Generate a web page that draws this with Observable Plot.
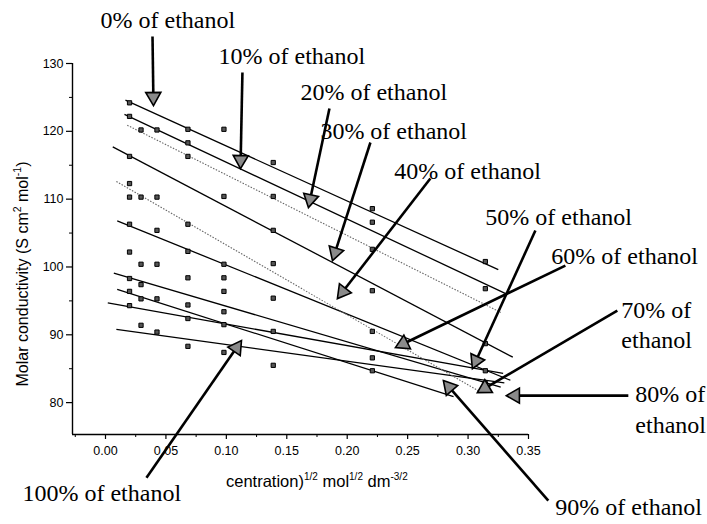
<!DOCTYPE html>
<html>
<head>
<meta charset="utf-8">
<script src="https://cdn.jsdelivr.net/npm/d3@7"></script>
<script src="https://cdn.jsdelivr.net/npm/@observablehq/plot@0.6"></script>
<style>
  html, body { margin: 0; padding: 0; background: #fff; }
  #chart { width: 707px; height: 524px; }
</style>
</head>
<body>
<div id="chart"></div>
<script>
// ---- Data ----
// square root of concentration (x) of each measured column
const sqrtConc = [0.0199, 0.0294, 0.0426, 0.0682, 0.098, 0.1388, 0.2208, 0.3143];
// molar conductivity values measured at each column
const condCol0 = [124.2, 122.2, 116.3, 112.3, 110.3, 106.3, 102.2, 98.3, 96.4, 94.3];
const condCol1 = [120.2, 110.3, 100.4, 97.4, 95.3, 91.4];
const condCol2 = [120.2, 110.3, 105.4, 100.4, 95.3, 90.4];
const condCol3 = [120.3, 118.3, 116.3, 106.3, 102.3, 98.4, 94.4, 92.4, 88.3];
const condCol4 = [120.3, 110.4, 100.4, 98.4, 96.4, 93.4, 91.5, 87.4];
const condCol5 = [115.4, 110.4, 105.4, 100.5, 95.4, 90.5, 85.5];
const condCol6 = [108.6, 106.6, 102.6, 96.5, 90.5, 86.6, 84.7];
const condCol7 = [100.8, 96.8, 88.7, 84.7, 82.8];
const condColumns = [condCol0, condCol1, condCol2, condCol3, condCol4, condCol5, condCol6, condCol7];

// fitted straight lines (start / end in data units)
const lineNames = ["0%", "10%", "20%", "30%", "40%", "50%", "60%", "70%", "80%", "100%"];
const lineX0 = [0.0165, 0.0157, 0.018, 0.006, 0.009, 0.0097, 0.0069, 0.0097, 0.0019, 0.009];
const lineY0 = [124.6, 122.5, 120.9, 117.7, 112.6, 106.8, 99.1, 96.7, 94.7, 90.8];
const lineX1 = [0.325, 0.332, 0.327, 0.337, 0.31, 0.335, 0.327, 0.288, 0.329, 0.33];
const lineY1 = [99.6, 96.0, 93.3, 86.7, 81.6, 83.3, 82.3, 80.9, 84.3, 82.9];
const lineDotted = [false, false, true, false, true, false, false, false, false, false];

// annotation labels (data units)
const annoText = ["0% of ethanol", "10% of ethanol", "20% of ethanol", "30% of ethanol",
  "40% of ethanol", "50% of ethanol", "60% of ethanol", "70% of", "ethanol",
  "80% of", "ethanol", "90% of ethanol", "100% of ethanol"];
const annoX = [-0.0041, 0.0935, 0.1613, 0.1778, 0.2390, 0.3143, 0.3689, 0.4268, 0.4268, 0.4384, 0.4384, 0.3722, -0.0687];
const annoY = [136.34, 131.03, 125.72, 119.97, 114.07, 107.29, 101.53, 93.57, 89.14, 81.18, 76.61, 64.51, 66.58];

// annotation arrows: tail (1) and tip (2), data units
const arrowX1 = [0.0389, 0.1133, 0.1853, 0.2192, 0.2688, 0.3557, 0.3805, 0.4235, 0.4326, 0.3664, 0.0339];
const arrowY1 = [133.98, 128.67, 123.36, 118.35, 113.04, 105.37, 100.21, 93.57, 81.03, 65.55, 68.94];
const arrowX2 = [0.0397, 0.1117, 0.1679, 0.1878, 0.1919, 0.3036, 0.2399, 0.3077, 0.3317, 0.2796, 0.1125];
const arrowY2 = [123.8, 114.51, 108.76, 100.94, 95.34, 85.01, 88.11, 81.47, 81.03, 83.24, 89.14];

// axis ticks
const xMajor = [0, 0.05, 0.10, 0.15, 0.20, 0.25, 0.30, 0.35];
const xMinor = [-0.025, 0.025, 0.075, 0.125, 0.175, 0.225, 0.275, 0.325];
const yMajor = [80, 90, 100, 110, 120, 130];
const yMinor = [85, 95, 105, 115, 125];
const xDomain = [-0.0273, 0.35];
const yDomain = [75.3, 130];

// ---- Build tables ----
const points = [];
condColumns.forEach((col, i) => col.forEach(v => points.push({x: sqrtConc[i], y: v})));
const lines = lineNames.map((n, i) => ({name: n, x1: lineX0[i], y1: lineY0[i], x2: lineX1[i], y2: lineY1[i], dotted: lineDotted[i]}));
const annos = annoText.map((t, i) => ({text: t, x: annoX[i], y: annoY[i]}));

const layout = {
  width: 707, height: 524,
  marginLeft: 72, marginRight: 179, marginTop: 63, marginBottom: 90,
  x: {domain: xDomain}, y: {domain: yDomain}
};

// probe the scales to orient the triangular arrow heads on screen
const probe = Plot.plot({...layout, marks: []});
const sx = probe.scale("x"), sy = probe.scale("y");
const headH = 13; // triangle height in px
const arrows = arrowX1.map((v, i) => {
  const px1 = sx.apply(v), py1 = sy.apply(arrowY1[i]);
  const px2 = sx.apply(arrowX2[i]), py2 = sy.apply(arrowY2[i]);
  const L = Math.hypot(px2 - px1, py2 - py1);
  const ux = (px2 - px1) / L, uy = (py2 - py1) / L;
  const angle = Math.atan2(ux, -uy) * 180 / Math.PI;
  return {
    x1: v, y1: arrowY1[i],
    bx: sx.invert(px2 - ux * headH), by: sy.invert(py2 - uy * headH),
    cx: sx.invert(px2 - ux * headH * 2 / 3), cy: sy.invert(py2 - uy * headH * 2 / 3),
    angle
  };
});

const serif = "'Liberation Serif', 'DejaVu Serif', serif";

const chart = Plot.plot({
  ...layout,
  style: {fontFamily: "'Liberation Sans', Arial, sans-serif", fontSize: "12.5px", color: "#000", background: "#fff", overflow: "visible"},
  marks: [
    // axis lines
    Plot.ruleX([xDomain[0]], {y1: yDomain[0], y2: yDomain[1], stroke: "#000", strokeWidth: 1.4}),
    Plot.ruleY([yDomain[0]], {x1: xDomain[0], x2: xDomain[1], stroke: "#000", strokeWidth: 1.4}),
    Plot.axisY(yMajor, {anchor: "left", tickSize: 6, tickPadding: 3, fontSize: 12.5, label: null, strokeWidth: 1.2}),
    Plot.axisY(yMinor, {anchor: "left", tickSize: 3, text: null, label: null}),
    Plot.axisX(xMajor, {anchor: "bottom", tickSize: 5, tickPadding: 7, fontSize: 12.5, label: null, tickFormat: d3.format(".2f"), strokeWidth: 1.2}),
    Plot.axisX(xMinor, {anchor: "bottom", tickSize: 3, text: null, label: null}),
    // fitted lines
    Plot.link(lines.filter(d => !d.dotted), {x1: "x1", y1: "y1", x2: "x2", y2: "y2", stroke: "#000", strokeWidth: 1.3}),
    Plot.link(lines.filter(d => d.dotted), {x1: "x1", y1: "y1", x2: "x2", y2: "y2", stroke: "#666", strokeWidth: 1.1, strokeDasharray: "1.5,1.5"}),
    // measured points
    Plot.dot(points, {x: "x", y: "y", symbol: "square", r: 2.4, fill: "#555", stroke: "#000", strokeWidth: 1}),
    // annotation arrows: shaft + triangular head
    Plot.link(arrows, {x1: "x1", y1: "y1", x2: "bx", y2: "by", stroke: "#000", strokeWidth: 2.6}),
    Plot.dot(arrows, {x: "cx", y: "cy", symbol: "triangle", r: 5.6, rotate: "angle", fill: "#8a8a8a", stroke: "#000", strokeWidth: 1.6}),
    // labels
    Plot.text(annos, {x: "x", y: "y", text: "text", textAnchor: "start", lineAnchor: "middle", fontFamily: serif, fontSize: 24, fill: "#000"})
  ]
});

document.getElementById("chart").appendChild(chart);

// axis titles with superscripts
const svg = d3.select(chart);
const yl = svg.append("text")
  .attr("transform", "translate(28,274) rotate(-90)")
  .attr("text-anchor", "middle")
  .attr("font-family", "'Liberation Sans', Arial, sans-serif")
  .attr("font-size", 16)
  .attr("fill", "#000");
yl.append("tspan").text("Molar conductivity (S cm");
yl.append("tspan").attr("dy", -7).attr("font-size", 10.5).text("2");
yl.append("tspan").attr("dy", 7).text(" mol");
yl.append("tspan").attr("dy", -7).attr("font-size", 10.5).text("-1");
yl.append("tspan").attr("dy", 7).text(")");

const xl = svg.append("text")
  .attr("x", 226).attr("y", 487)
  .attr("text-anchor", "start")
  .attr("font-family", "'Liberation Sans', Arial, sans-serif")
  .attr("font-size", 16.5)
  .attr("fill", "#000");
xl.append("tspan").text("centration)");
xl.append("tspan").attr("dy", -7).attr("font-size", 10).text("1/2");
xl.append("tspan").attr("dy", 7).text(" mol");
xl.append("tspan").attr("dy", -7).attr("font-size", 10).text("1/2");
xl.append("tspan").attr("dy", 7).text(" dm");
xl.append("tspan").attr("dy", -7).attr("font-size", 10).text("-3/2");
</script>
</body>
</html>
